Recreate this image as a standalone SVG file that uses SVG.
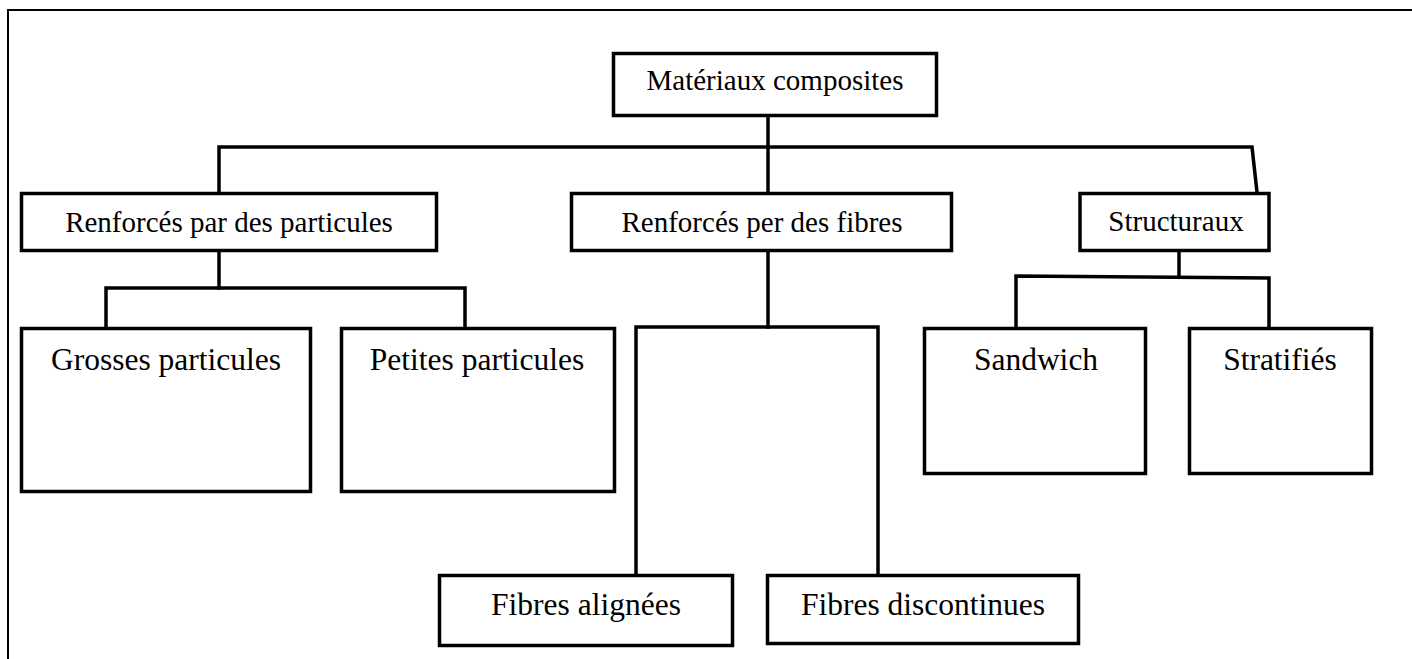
<svg xmlns="http://www.w3.org/2000/svg" width="1412" height="659" viewBox="0 0 1412 659">
<style>
.box{fill:#fff;stroke:#000;stroke-width:3.5}
.ln{fill:none;stroke:#000;stroke-width:3.5;stroke-linejoin:miter;stroke-linecap:square}
.t1{font-family:"Liberation Serif","Times New Roman",serif;font-size:29px;fill:#000;text-anchor:middle}
.t2{font-family:"Liberation Serif","Times New Roman",serif;font-size:31.5px;fill:#000;text-anchor:middle}
</style>
<rect width="1412" height="659" fill="#fff"/>
<path d="M8 659 V10 H1412" fill="none" stroke="#000" stroke-width="2"/>
<g id="connectors">
<path class="ln" d="M768 116 V192"/>
<path class="ln" d="M219 192 V147 H1252 L1257 192"/>
<path class="ln" d="M219 252 V288"/>
<path class="ln" d="M106 327 V288 H465 V327"/>
<path class="ln" d="M768 252 V327"/>
<path class="ln" d="M636 574 V327 H878 V574"/>
<path class="ln" d="M1179 252 V277"/>
<path class="ln" d="M1016 327 V276 L1269 278 V327"/>
</g>
<g id="n-root"><rect class="box" x="613.5" y="53.5" width="323" height="62"/><text class="t1" x="775" y="90">Matériaux composites</text></g>
<g id="n-particules"><rect class="box" x="21.5" y="193.5" width="415" height="57"/><text class="t1" x="229" y="232">Renforcés par des particules</text></g>
<g id="n-fibres"><rect class="box" x="571.5" y="193.5" width="380" height="57"/><text class="t1" x="762" y="232">Renforcés per des fibres</text></g>
<g id="n-structuraux"><rect class="box" x="1080" y="193.5" width="189" height="57"/><text class="t1" x="1176" y="231">Structuraux</text></g>
<g id="n-grosses"><rect class="box" x="21.5" y="328.5" width="289" height="163"/><text class="t2" x="166" y="370">Grosses particules</text></g>
<g id="n-petites"><rect class="box" x="341.5" y="328.5" width="273" height="163"/><text class="t2" x="477" y="370">Petites particules</text></g>
<g id="n-sandwich"><rect class="box" x="924.5" y="328.5" width="221" height="145"/><text class="t2" x="1036" y="370">Sandwich</text></g>
<g id="n-stratifies"><rect class="box" x="1189.5" y="328.5" width="182" height="145"/><text class="t2" x="1280" y="370">Stratifiés</text></g>
<g id="n-alignees"><rect class="box" x="439.5" y="575.5" width="293" height="70"/><text class="t2" x="586" y="615">Fibres alignées</text></g>
<g id="n-discontinues"><rect class="box" x="767.5" y="575.5" width="311" height="68"/><text class="t2" x="923" y="615">Fibres discontinues</text></g>
</svg>
